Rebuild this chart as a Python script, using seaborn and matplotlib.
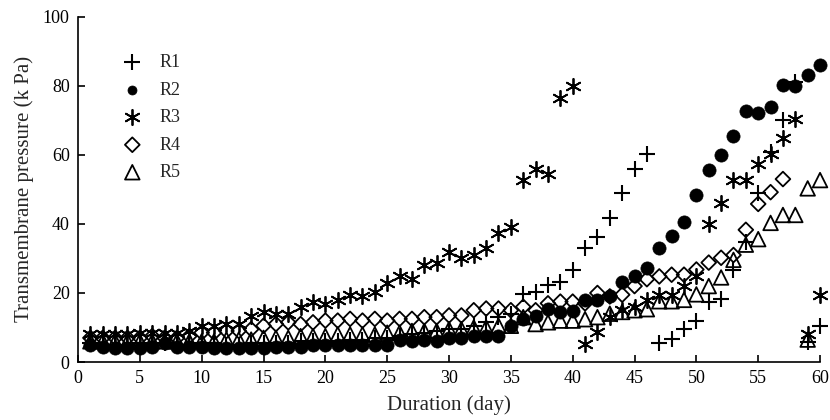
import numpy as np
import pandas as pd
import matplotlib
matplotlib.use('Agg')
import matplotlib.pyplot as plt
import seaborn as sns

days_r1 = list(range(1, 61))
tmp_r1 = [5.5, 5, 5, 5, 5.5, 5.5, 5.5, 5, 5, 5.5, 5.5, 5, 5, 5.5, 5.5, 5.5, 5.5, 6, 6, 6,
          6, 6.5, 6.5, 7, 7, 7.5, 8, 8.5, 9, 9.5, 9.5, 10.5, 11.5, 13, 14, 19.6, 20.4, 22.4, 23.3, 26.8,
          33, 36.3, 41.7, 49, 56, 60.4, 5.5, 6.8, 9.5, 11.8, 17.3, 18.4, 26.8, 34.8, 49, 60.7, 70, 81, 5.7, 10.4]

days_r2 = list(range(1, 61))
tmp_r2 = [5, 4.5, 4, 4, 4, 4.5, 5.5, 4.5, 4.5, 4.5, 4, 4, 4, 4, 4, 4.5, 4.5, 4.5, 5, 5,
          5, 5, 5, 5, 5, 6.5, 6, 6.5, 6, 7, 7, 7.5, 7.5, 7.5, 10.4, 12.6, 13.2, 15.5, 14.4, 14.7,
          18, 18, 19, 23.3, 25, 27.3, 33, 36.5, 40.6, 48.3, 55.5, 60, 65.6, 72.8, 72, 74, 80.3, 80, 83, 86]

days_r3 = list(range(1, 61))
tmp_r3 = [8, 8, 8, 8, 8.5, 8.5, 8.5, 8.5, 9, 10.4, 10.4, 11, 11, 13.3, 14.4, 14, 13.8, 15.8, 17.3, 16.7,
          18, 19.3, 19, 20.4, 23, 25, 24, 28, 28.7, 32, 30, 31, 33, 37.4, 39, 52.7, 56, 54.6, 76.5, 80,
          5.2, 8.6, 13, 15, 16, 18, 19.5, 19.5, 22, 25, 40, 46, 52.6, 52.6, 57.5, 60.4, 65, 70.5, 8, 19.3]

days_r4 = list(range(1, 58))
tmp_r4 = [7, 7, 7, 7, 7, 7.5, 7, 7, 7.5, 8.5, 8.5, 9, 9, 9.5, 10.5, 11, 11.5, 11, 11.5, 12,
          12, 12.5, 12, 12.5, 12, 12.5, 12.5, 13, 13, 13.5, 13.5, 15, 15.5, 15.5, 15, 16, 15, 17, 17.5, 17.5,
          17, 20, 19, 19.5, 22, 24, 24.8, 25.3, 25.3, 26.8, 28.8, 30.2, 31, 38.3, 45.8, 49.2, 53]

days_r5 = list(range(1, 61)) + [59]
tmp_r5 = [6, 6, 6, 6, 6, 6, 6, 6, 6, 6, 6, 6.5, 6.5, 6.5, 7, 7, 7, 7.5, 7.5, 7.5,
          8, 8, 8, 8, 8.5, 8.5, 9, 9, 9, 9.5, 9.5, 10, 10, 10.5, 10.5, 13, 11, 11.5, 12, 12,
          12.4, 13, 14, 14.5, 15, 15.3, 17.6, 17.6, 18, 19.6, 22, 24.5, 29.6, 34, 35.6, 40.3, 42.6, 42.6, 50.3, 52.7,
          6.5]

reactors = ['R1', 'R2', 'R3', 'R4', 'R5']
series = {
    'R1': (days_r1, tmp_r1),
    'R2': (days_r2, tmp_r2),
    'R3': (days_r3, tmp_r3),
    'R4': (days_r4, tmp_r4),
    'R5': (days_r5, tmp_r5),
}

# Markerstil je Reaktor
styles = {
    'R1': dict(marker='+', s=11 ** 2, color='black', edgecolor=None, linewidth=1.5),
    'R2': dict(marker='o', s=9.5 ** 2, color='black', edgecolor='black', linewidth=0.5),
    'R3': dict(marker=(6, 2, 0), s=11 ** 2, color='black', edgecolor=None, linewidth=1.3),
    'R4': dict(marker='D', s=7.5 ** 2, color='black', facecolor='none', edgecolor='black', linewidth=1.3),
    'R5': dict(marker='^', s=10.5 ** 2, color='black', facecolor='none', edgecolor='black', linewidth=1.3),
}

sns.set_style('ticks')
plt.rcParams['font.family'] = ['Liberation Serif', 'DejaVu Serif']

fig = plt.figure(figsize=(8.3, 4.2), dpi=100)
ax = fig.add_axes([0.094, 0.138, 0.894, 0.822])

for name in reactors:
    d, v = series[name]
    df = pd.DataFrame({'Tag': d, 'TMP': v})
    sns.scatterplot(data=df, x='Tag', y='TMP', ax=ax, label=name, clip_on=False, zorder=3,
                    **styles[name])

ax.set_xlim(0, 60)
ax.set_ylim(0, 100)
ax.set_xticks(np.arange(0, 61, 5))
ax.set_yticks(np.arange(0, 101, 20))
ax.set_xlabel('Duration (day)', fontsize=15, labelpad=6)
ax.set_ylabel('Transmembrane pressure (k Pa)', fontsize=15, labelpad=6)
ax.tick_params(direction='in', length=5, width=1.2, labelsize=13, colors='black', pad=6)
sns.despine(ax=ax)
for sp in ['left', 'bottom']:
    ax.spines[sp].set_linewidth(1.2)
    ax.spines[sp].set_color('black')

leg = ax.legend(loc='upper left', bbox_to_anchor=(0.061, 0.892), frameon=False, fontsize=13,
                handlelength=1.0, handletextpad=1.0, labelspacing=0.58, borderpad=0,
                borderaxespad=0, scatterpoints=1)
# Legendenpunkt fuer R2 ist in der Vorlage kleiner
leg.legend_handles[1].set_sizes([6.5 ** 2])

fig.savefig('out.png', dpi=100)
